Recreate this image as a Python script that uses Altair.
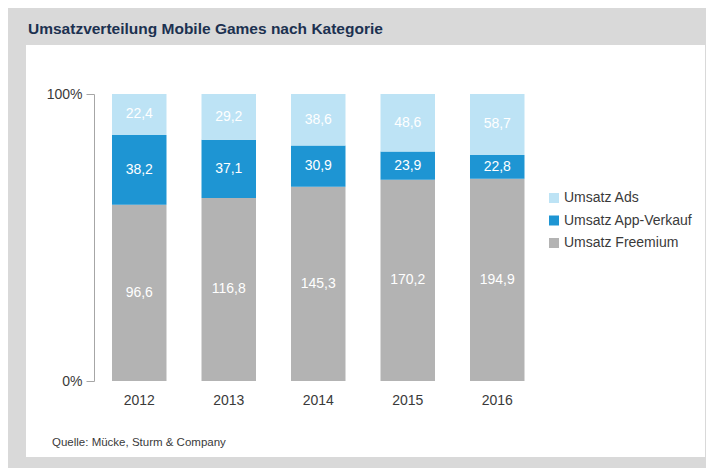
import altair as alt
import pandas as pd

years = ["2012", "2013", "2014", "2015", "2016"]
freemium = [96.6, 116.8, 145.3, 170.2, 194.9]
app_sales = [38.2, 37.1, 30.9, 23.9, 22.8]
ads = [22.4, 29.2, 38.6, 48.6, 58.7]
categories = ["Umsatz Ads", "Umsatz App-Verkauf", "Umsatz Freemium"]
colors = ["#bde3f5", "#1e95d3", "#b3b3b3"]
title_text = "Umsatzverteilung Mobile Games nach Kategorie"
source_text = "Quelle: Mücke, Sturm & Company"

FONT = "Liberation Sans, Arial, sans-serif"

rows = []
for i, y in enumerate(years):
    rows.append({"year": y, "cat": "Umsatz Freemium", "value": freemium[i], "ord": 0})
    rows.append({"year": y, "cat": "Umsatz App-Verkauf", "value": app_sales[i], "ord": 1})
    rows.append({"year": y, "cat": "Umsatz Ads", "value": ads[i], "ord": 2})
df = pd.DataFrame(rows)

xscale = alt.Scale(domain=years, range=[68.5, 516], paddingInner=0.391, paddingOuter=0.1955)
yscale = alt.Scale(domain=[0, 1], range=[336, 49])
xaxis = alt.Axis(title=None, domain=False, ticks=False, labelPadding=12, offset=-76,
                 labelFontSize=14, labelColor="#3a3a3a", labelFont=FONT, labelAngle=0)
yaxis = alt.Axis(title=None, values=[0, 1], format="%", offset=-68, grid=False,
                 domainColor="#a6a6a6", tickColor="#a6a6a6", tickSize=8, labelPadding=4,
                 labelFontSize=14, labelColor="#3a3a3a", labelFont=FONT)

bars = alt.Chart(df).mark_bar().encode(
    x=alt.X("year:N", scale=xscale, axis=xaxis),
    y=alt.Y("value:Q", stack="normalize", scale=yscale, axis=yaxis),
    color=alt.Color("cat:N", scale=alt.Scale(domain=categories, range=colors),
                    legend=alt.Legend(title=None, orient="none", legendX=521, legendY=146,
                                      symbolType="square", symbolSize=100, symbolStrokeWidth=0,
                                      labelFontSize=14, labelFont=FONT, labelColor="#3a3a3a",
                                      labelOffset=3, rowPadding=8.5, padding=0, labelLimit=200)),
    order=alt.Order("ord:Q", sort="ascending"),
)

labels = alt.Chart(df).transform_stack(
    stack="value", groupby=["year"], as_=["v0", "v1"], offset="normalize",
    sort=[alt.SortField("ord", order="ascending")]
).transform_calculate(
    mid="(datum.v0 + datum.v1) / 2",
    txt="replace(format(datum.value, '.1f'), '.', ',')",
).mark_text(color="white", fontSize=14, font=FONT, baseline="middle").encode(
    x=alt.X("year:N", scale=xscale, axis=xaxis),
    y=alt.Y("mid:Q", scale=yscale, axis=yaxis),
    text="txt:N",
)

source = alt.Chart(alt.Data(values=[{"t": source_text}])).mark_text(
    align="left", baseline="middle", fontSize=11.5, font=FONT, color="#3a3a3a"
).encode(x=alt.value(26), y=alt.value(398), text="t:N")

chart = alt.layer(bars, labels, source).properties(
    width=679, height=412,
    title=alt.TitleParams(title_text, anchor="start", fontSize=15.5, fontWeight="bold",
                          font=FONT, color="#1c3150", offset=8, dx=2),
    autosize=alt.AutoSizeParams(type="none"),
    padding={"left": 18, "top": 37, "right": 1, "bottom": 11},
    background="#d9d9d9",
).configure_view(fill="white", stroke=None)

chart.save("out.html", embed_options={"renderer": "svg", "actions": False})
